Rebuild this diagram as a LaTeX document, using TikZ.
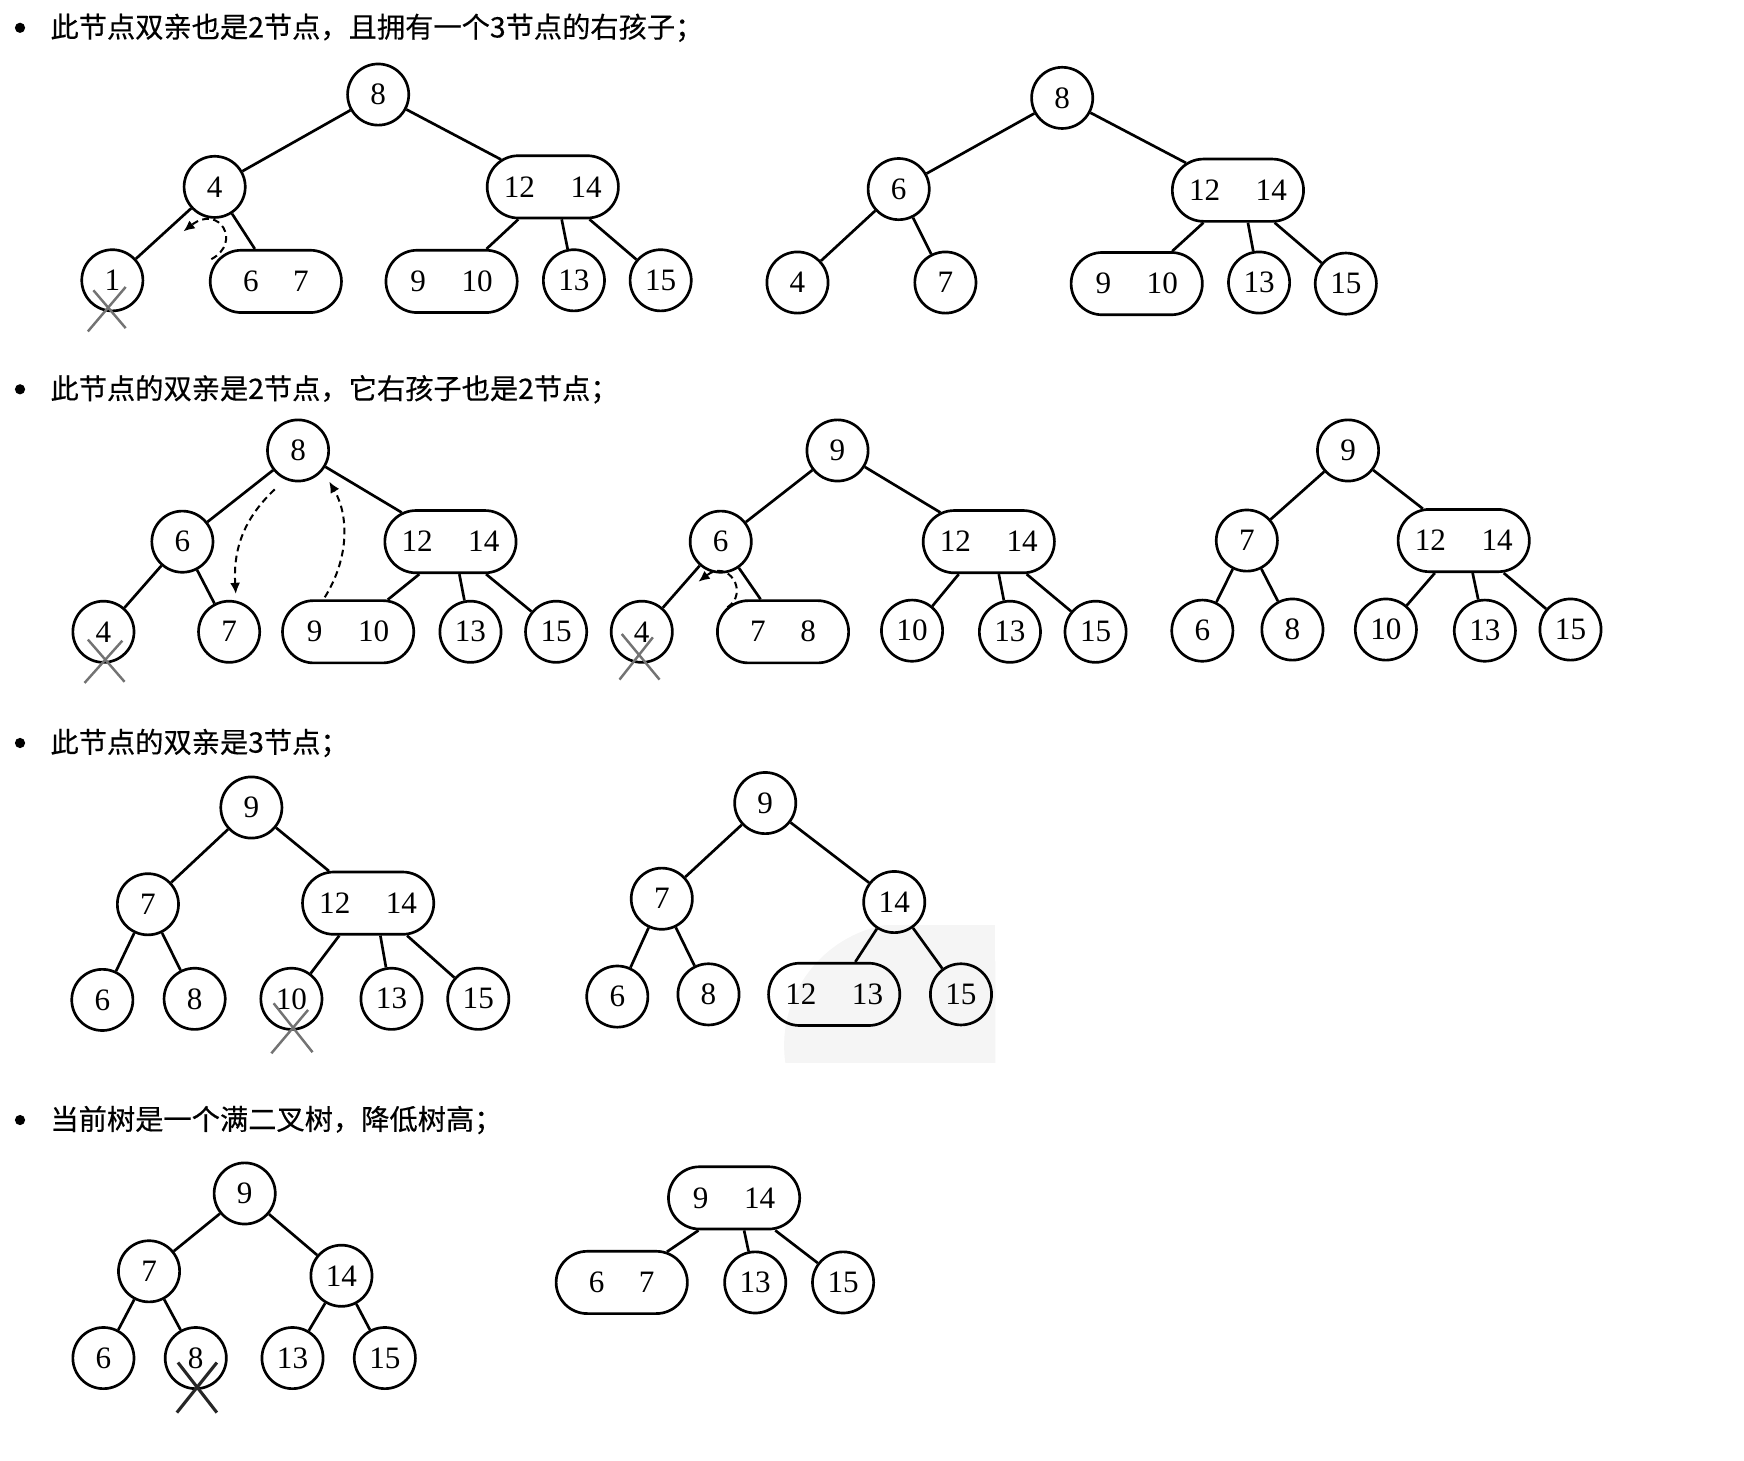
\documentclass[tikz,border=0pt]{standalone}
\usepackage{fontspec}
\setmainfont{Liberation Serif}
\newfontfamily\cjk[FakeBold=0.4]{Noto Sans CJK SC}
\usetikzlibrary{shapes.misc,arrows.meta}
\begin{document}
\begin{tikzpicture}[x=0.5pt,y=-0.5pt,
  nd/.style={circle,draw,line width=1.2pt,minimum size=27.5pt,inner sep=0pt,font=\fontsize{14}{15}\selectfont},
  bx/.style={rounded rectangle,draw,line width=1.2pt,minimum width=59pt,minimum height=28pt,inner sep=0pt,font=\fontsize{14}{15}\selectfont},
  lnk/.style={line width=1.2pt},
  xmark/.style={line width=1.1pt,black!55},
  darr/.style={line width=0.9pt,dash pattern=on 3pt off 2pt,-{Latex[length=5pt,width=4.5pt]}},
  head/.style={anchor=west,font=\cjk\fontsize{12.7}{14}\selectfont,inner sep=0pt},
]
\useasboundingbox (0,0) rectangle (1568,1313);
% watermark
\begin{scope}
  \clip (690,832) rectangle (895,955);
  \fill[gray!8] (800,832) rectangle (895,955);
  \fill[gray!8] (815,940) circle (55pt);
\end{scope}
% headings
\fill (18,25) circle (2.3pt);
\node[head] (h1) at (45,25) {此节点双亲也是2节点，且拥有一个3节点的右孩子；};
\fill (18,350) circle (2.3pt);
\node[head] (h2) at (45,350) {此节点的双亲是2节点，它右孩子也是2节点；};
\fill (18,668) circle (2.3pt);
\node[head] (h3) at (45,668) {此节点的双亲是3节点；};
\fill (18,1007) circle (2.3pt);
\node[head] (h4) at (45,1007) {当前树是一个满二叉树，降低树高；};

% ---------- Tree 1
\node[nd] (a8) at (340,85) {8};
\node[nd] (a4) at (193,168) {4};
\node[bx] (a1214) at (497,168) {12\hspace{16pt}14};
\node[nd] (a1) at (101,252) {1};
\node[bx] (a67) at (248,253) {6\hspace{15.5pt}7};
\node[bx] (a910) at (406,253) {9\hspace{16pt}10};
\node[nd] (a13) at (516,252) {13};
\node[nd] (a15) at (594,252) {15};
\draw[lnk] (a8) -- (a4);
\draw[lnk] (a8) -- (a1214);
\draw[lnk] (a4) -- (a1);
\draw[lnk] (a4) -- (a67);
\draw[lnk] ([shift={(-31,0)}]a1214.south) -- (a910);
\draw[lnk] ([shift={(8,0)}]a1214.south) -- (a13);
\draw[lnk] ([shift={(33,0)}]a1214.south) -- (a15);
\draw[xmark] ([shift={(-22,46)}]a1.center) -- ([shift={(12,6)}]a1.center);
\draw[xmark] ([shift={(-17,9)}]a1.center) -- ([shift={(12,43)}]a1.center);
\coordinate (a67s) at ([shift={(-58,-20)}]a67.center);
\coordinate (a41) at (165,208);
\draw[darr] (a67s) .. controls (218,218) and (197,183) .. (a41);

% ---------- Tree 2
\node[nd] (b8) at (955,88) {8};
\node[nd] (b6) at (808,170) {6};
\node[bx] (b1214) at (1113,171) {12\hspace{16pt}14};
\node[nd] (b4) at (717,254) {4};
\node[nd] (b7) at (850,254) {7};
\node[bx] (b910) at (1022,255) {9\hspace{16pt}10};
\node[nd] (b13) at (1132,254) {13};
\node[nd] (b15) at (1210,255) {15};
\draw[lnk] (b8) -- (b6);
\draw[lnk] (b8) -- (b1214);
\draw[lnk] (b6) -- (b4);
\draw[lnk] (b6) -- (b7);
\draw[lnk] ([shift={(-31,0)}]b1214.south) -- (b910);
\draw[lnk] ([shift={(9,0)}]b1214.south) -- (b13);
\draw[lnk] ([shift={(33,0)}]b1214.south) -- (b15);

% ---------- Tree 3
\node[nd] (c8) at (268,405) {8};
\node[nd] (c6) at (164,487) {6};
\node[bx] (c1214) at (405,487) {12\hspace{16pt}14};
\node[nd] (c4) at (93,568) {4};
\node[nd] (c7) at (206,568) {7};
\node[bx] (c910) at (313,568) {9\hspace{16pt}10};
\node[nd] (c13) at (423,568) {13};
\node[nd] (c15) at (500,568) {15};
\draw[lnk] (c8) -- (c6);
\draw[lnk] (c8) -- (c1214);
\draw[lnk] (c6) -- (c4);
\draw[lnk] (c6) -- (c7);
\draw[lnk] ([shift={(-28,0)}]c1214.south) -- (c910);
\draw[lnk] ([shift={(8,0)}]c1214.south) -- (c13);
\draw[lnk] ([shift={(32,0)}]c1214.south) -- (c15);
\draw[xmark] ([shift={(-17,46)}]c4.center) -- ([shift={(17,8)}]c4.center);
\draw[xmark] ([shift={(-14,7)}]c4.center) -- ([shift={(19,45)}]c4.center);
\coordinate (c8s) at ([shift={(-21,35)}]c8.center);
\coordinate (c7n) at ([shift={(6,-34)}]c7.center);
\draw[darr] (c8s) .. controls (215,470) and (210,500) .. (c7n);
\coordinate (c910n) at ([shift={(-21,-31)}]c910.center);
\coordinate (c8e) at ([shift={(28,28)}]c8.center);
\draw[darr] (c910n) .. controls (315,500) and (313,462) .. (c8e);

% ---------- Tree 4
\node[nd] (d9) at (753,405) {9};
\node[nd] (d6) at (648,487) {6};
\node[bx] (d1214) at (889,487) {12\hspace{16pt}14};
\node[nd] (d4) at (577,568) {4};
\node[bx] (d78) at (704,568) {7\hspace{15.5pt}8};
\node[nd] (d10) at (820,567) {10};
\node[nd] (d13) at (908,568) {13};
\node[nd] (d15) at (985,568) {15};
\draw[lnk] (d9) -- (d6);
\draw[lnk] (d9) -- (d1214);
\draw[lnk] (d6) -- (d4);
\draw[lnk] (d6) -- (d78);
\draw[lnk] ([shift={(-27,0)}]d1214.south) -- (d10);
\draw[lnk] ([shift={(9,0)}]d1214.south) -- (d13);
\draw[lnk] ([shift={(34,0)}]d1214.south) -- (d15);
\draw[xmark] ([shift={(-20,43)}]d4.center) -- ([shift={(10,5)}]d4.center);
\draw[xmark] ([shift={(-18,2)}]d4.center) -- ([shift={(16,43)}]d4.center);
\coordinate (d78s) at ([shift={(-50,-22)}]d78.center);
\coordinate (d64) at (628,523);
\draw[darr] (d78s) .. controls (674,533) and (655,502) .. (d64);

% ---------- Tree 5
\node[nd] (e9) at (1212,405) {9};
\node[nd] (e7) at (1121,486) {7};
\node[bx] (e1214) at (1316,486) {12\hspace{16pt}14};
\node[nd] (e6) at (1081,567) {6};
\node[nd] (e8) at (1162,566) {8};
\node[nd] (e10) at (1246,566) {10};
\node[nd] (e13) at (1335,567) {13};
\node[nd] (e15) at (1412,566) {15};
\draw[lnk] (e9) -- (e7);
\draw[lnk] (e9) -- (e1214);
\draw[lnk] (e7) -- (e6);
\draw[lnk] (e7) -- (e8);
\draw[lnk] ([shift={(-26,0)}]e1214.south) -- (e10);
\draw[lnk] ([shift={(8,0)}]e1214.south) -- (e13);
\draw[lnk] ([shift={(36,0)}]e1214.south) -- (e15);

% ---------- Tree 6
\node[nd] (f9) at (226,726) {9};
\node[nd] (f7) at (133,813) {7};
\node[bx] (f1214) at (331,812) {12\hspace{16pt}14};
\node[nd] (f6) at (92,899) {6};
\node[nd] (f8) at (175,898) {8};
\node[nd] (f10) at (262,898) {10};
\node[nd] (f13) at (352,898) {13};
\node[nd] (f15) at (430,898) {15};
\draw[lnk] (f9) -- (f7);
\draw[lnk] (f9) -- (f1214);
\draw[lnk] (f7) -- (f6);
\draw[lnk] (f7) -- (f8);
\draw[lnk] ([shift={(-26,0)}]f1214.south) -- (f10);
\draw[lnk] ([shift={(11,0)}]f1214.south) -- (f13);
\draw[lnk] ([shift={(35,0)}]f1214.south) -- (f15);
\draw[xmark] ([shift={(-18,49)}]f10.center) -- ([shift={(15,10)}]f10.center);
\draw[xmark] ([shift={(-16,4)}]f10.center) -- ([shift={(19,48)}]f10.center);

% ---------- Tree 7
\node[nd] (g9) at (688,722) {9};
\node[nd] (g7) at (595,808) {7};
\node[nd] (g14) at (804,811) {14};
\node[nd] (g6) at (555,896) {6};
\node[nd] (g8) at (637,894) {8};
\node[bx] (g1213) at (750,894) {12\hspace{16pt}13};
\node[nd] (g15) at (864,894) {15};
\draw[lnk] (g9) -- (g7);
\draw[lnk] (g9) -- (g14);
\draw[lnk] (g7) -- (g6);
\draw[lnk] (g7) -- (g8);
\draw[lnk] (g14) -- (g1213);
\draw[lnk] (g14) -- (g15);

% ---------- Tree 8
\node[nd] (h9) at (220,1073) {9};
\node[nd] (h7) at (134,1143) {7};
\node[nd] (h14) at (307,1147) {14};
\node[nd] (h6) at (93,1221) {6};
\node[nd] (h8) at (176,1221) {8};
\node[nd] (h13) at (263,1221) {13};
\node[nd] (h15) at (346,1221) {15};
\draw[lnk] (h9) -- (h7);
\draw[lnk] (h9) -- (h14);
\draw[lnk] (h7) -- (h6);
\draw[lnk] (h7) -- (h8);
\draw[lnk] (h14) -- (h13);
\draw[lnk] (h14) -- (h15);
\draw[xmark,black!85,line width=1.4pt] ([shift={(-17,49)}]h8.center) -- ([shift={(19,4)}]h8.center);
\draw[xmark,black!85,line width=1.4pt] ([shift={(-16,4)}]h8.center) -- ([shift={(19,49)}]h8.center);

% ---------- Tree 9
\node[bx] (i914) at (660,1077) {9\hspace{16pt}14};
\node[bx] (i67) at (559,1153) {6\hspace{15.5pt}7};
\node[nd] (i13) at (679,1153) {13};
\node[nd] (i15) at (758,1153) {15};
\draw[lnk] ([shift={(-32,0)}]i914.south) -- (i67);
\draw[lnk] ([shift={(9,0)}]i914.south) -- (i13);
\draw[lnk] ([shift={(37,0)}]i914.south) -- (i15);
\end{tikzpicture}
\end{document}
